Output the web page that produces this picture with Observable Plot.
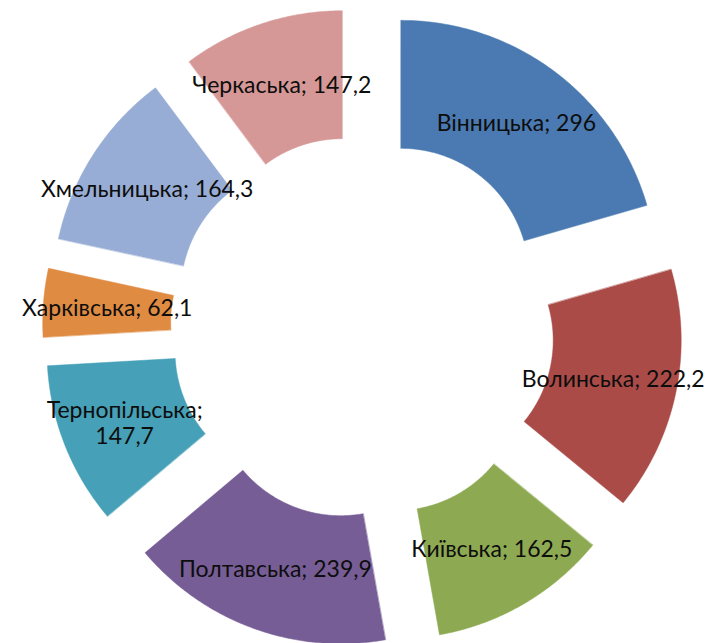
<!DOCTYPE html>
<html>
<head>
<meta charset="utf-8">
<script src="https://cdn.jsdelivr.net/npm/d3@7"></script>
<script src="https://cdn.jsdelivr.net/npm/@observablehq/plot@0.6"></script>
<style>
  html, body { margin: 0; padding: 0; background: #ffffff; }
  #chart { width: 713px; height: 643px; }
</style>
</head>
<body>
<div id="chart"></div>
<script>
// Data (order clockwise from 12 o'clock)
const regions = ["Вінницька", "Волинська", "Київська", "Полтавська", "Тернопільська", "Харківська", "Хмельницька", "Черкаська"];
const values = [296, 222.2, 162.5, 239.9, 147.7, 62.1, 164.3, 147.2];
const wrapLabel = [false, false, false, false, true, false, false, false];
const colors = ["#4a7ab1", "#aa4b48", "#8daa52", "#775d95", "#46a0b7", "#df8b42", "#97add5", "#d59896"];

// Geometry (unit space: outer radius = 1)
const innerRatio = 0.5;
const explode = 0.25;
const steps = 90;

const total = d3.sum(values);
const slices = [];
let acc = 0;
regions.forEach((name, i) => {
  const a0 = acc / total * 2 * Math.PI;
  acc += values[i];
  const a1 = acc / total * 2 * Math.PI;
  slices.push({name, value: values[i], a0, a1, mid: (a0 + a1) / 2, wrap: wrapLabel[i]});
});

const pts = [];
for (const s of slices) {
  const ox = explode * Math.sin(s.mid), oy = -explode * Math.cos(s.mid);
  for (let k = 0; k <= steps; k++) {
    const a = s.a0 + (s.a1 - s.a0) * k / steps;
    pts.push({name: s.name, x: ox + Math.sin(a), y: oy - Math.cos(a)});
  }
  for (let k = steps; k >= 0; k--) {
    const a = s.a0 + (s.a1 - s.a0) * k / steps;
    pts.push({name: s.name, x: ox + innerRatio * Math.sin(a), y: oy - innerRatio * Math.cos(a)});
  }
}

const fmt = v => String(v).replace(".", ",");
const labelR = explode + (1 + innerRatio) / 2;
const labels = slices.map(s => ({
  x: labelR * Math.sin(s.mid),
  y: -labelR * Math.cos(s.mid),
  text: s.name + ";" + (s.wrap ? "\n" : " ") + fmt(s.value)
}));

const W = 713, H = 643, unit = 256, cx = 362, cy = 327;

const chart = Plot.plot({
  width: W,
  height: H,
  margin: 0,
  style: {background: "#ffffff", fontFamily: "Lato, 'Open Sans', sans-serif"},
  x: {domain: [-cx / unit, (W - cx) / unit], range: [0, W], axis: null},
  y: {domain: [-cy / unit, (H - cy) / unit], range: [0, H], axis: null},
  color: {domain: regions, range: colors},
  marks: [
    Plot.line(pts, {x: "x", y: "y", z: "name", fill: "name", stroke: "name", strokeWidth: 0.5, curve: "linear-closed"}),
    Plot.text(labels, {x: "x", y: "y", text: "text", fill: "#0d0d0d", fontSize: 23, lineHeight: 1.13, textAnchor: "middle", lineAnchor: "middle"})
  ]
});

document.getElementById("chart").appendChild(chart);
</script>
</body>
</html>
